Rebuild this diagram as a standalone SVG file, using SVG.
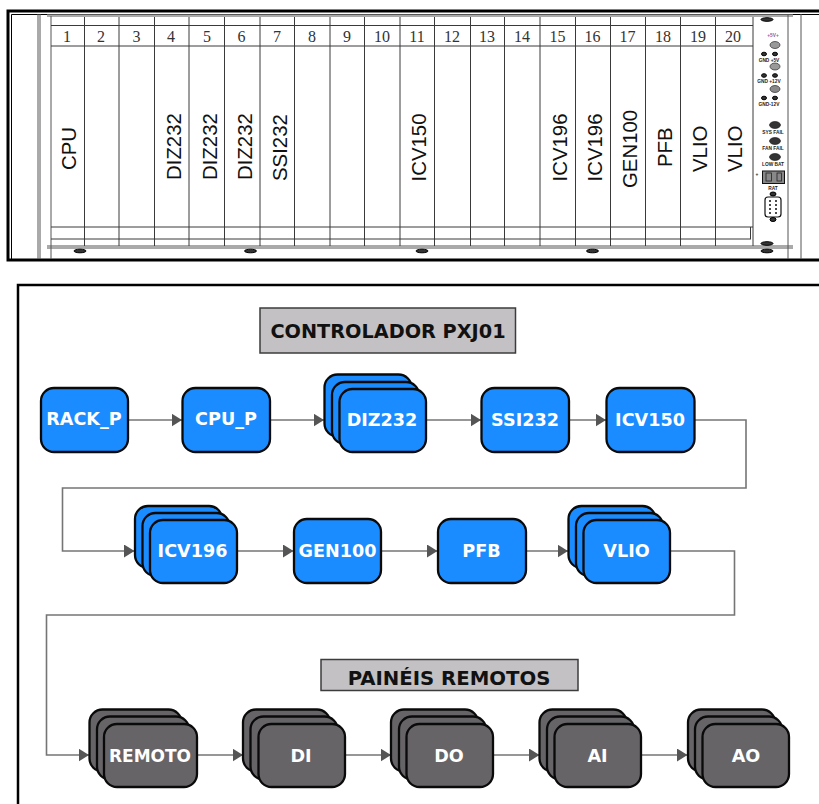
<svg xmlns="http://www.w3.org/2000/svg" width="819" height="804" viewBox="0 0 819 804">
<style>
.bg{fill:#fff}
.fr{fill:none;stroke:#000}
.ln{fill:none;stroke:#3a3a3a;stroke-width:1}
.gl{fill:none;stroke:#555;stroke-width:1}
.num{font-family:"Liberation Serif",serif;font-size:16px;fill:#333;text-anchor:middle}
.mod{font-family:"Liberation Sans",Arial,sans-serif;font-size:20.4px;fill:#111}
.tiny{font-family:"Liberation Sans",Arial,sans-serif;font-weight:700;font-size:4.800px;fill:#222;text-anchor:middle}
.scr{fill:#333;stroke:#000;stroke-width:1}
.led{fill:#333;stroke:#111;stroke-width:.6}
.b{fill:#1a8cff;stroke:#0a0a0a;stroke-width:2.300}
.d{fill:#666467;stroke:#0a0a0a;stroke-width:2.300}
.lb{font-family:"DejaVu Sans",Verdana,sans-serif;font-weight:700;font-size:17.6px;fill:#fff;text-anchor:middle}
.tb{fill:#c3c1c4;stroke:#3c3c3c;stroke-width:1.5}
.tt{font-family:"DejaVu Sans",Verdana,sans-serif;font-weight:700;fill:#111;text-anchor:middle}
.cn{fill:none;stroke:#757575;stroke-width:1.6;marker-end:url(#ah)}
</style>
<defs>
<marker id="ah" markerUnits="userSpaceOnUse" markerWidth="11" markerHeight="14" refX="10.500" refY="6.500" orient="auto"><path d="M0 0L10.500 6.500L0 13Z" fill="#555"/></marker>
</defs>
<rect class="bg" width="819" height="804"/>
<g id="rack">
<path class="fr" stroke-width="3" d="M819 11H8V260H819"/>
<path class="fr" stroke-width="1" d="M819 14.500H11.500V259"/>
<path class="gl" d="M38 14V259M40 14V259M788 14V259M801 14V259"/>
<path class="gl" d="M47 14.500H793M47 16H793M47 246H793M47 248H793M51 16V259"/>
<path class="ln" d="M51 25.500H753M51 46H753M51 227H753"/>
<path class="ln" d="M51 239H751M750.500 227V239"/>
<path class="ln" d="M84.500 17V246M119 17V246M154.500 17V246M189 17V246M224.500 17V246M260 17V246M294.500 17V246M330 17V246M364.500 17V246M400 17V246M434.500 17V246M470.500 17V246M504.500 17V246M540 17V246M575.500 17V246M610.500 17V246M645.500 17V246M680.500 17V246M715.500 17V246M753 17V246"/>
<g>
<text class="num" x="67" y="41.500">1</text><text class="num" x="101" y="41.500">2</text><text class="num" x="136.500" y="41.500">3</text><text class="num" x="171" y="41.500">4</text><text class="num" x="207" y="41.500">5</text><text class="num" x="241.500" y="41.500">6</text><text class="num" x="277" y="41.500">7</text><text class="num" x="312" y="41.500">8</text><text class="num" x="347" y="41.500">9</text><text class="num" x="382" y="41.500">10</text><text class="num" x="417" y="41.500">11</text><text class="num" x="452" y="41.500">12</text><text class="num" x="487" y="41.500">13</text><text class="num" x="522" y="41.500">14</text><text class="num" x="557.500" y="41.500">15</text><text class="num" x="592.500" y="41.500">16</text><text class="num" x="627.500" y="41.500">17</text><text class="num" x="663" y="41.500">18</text><text class="num" x="698" y="41.500">19</text><text class="num" x="733" y="41.500">20</text>
</g>
<g>
<text class="mod" transform="translate(76 170) rotate(-90)">CPU</text>
<text class="mod" transform="translate(181 180) rotate(-90)">DIZ232</text>
<text class="mod" transform="translate(216.500 180) rotate(-90)">DIZ232</text>
<text class="mod" transform="translate(252 180) rotate(-90)">DIZ232</text>
<text class="mod" transform="translate(286.500 181) rotate(-90)">SSI232</text>
<text class="mod" transform="translate(426 181.500) rotate(-90)">ICV150</text>
<text class="mod" transform="translate(567 181.500) rotate(-90)">ICV196</text>
<text class="mod" transform="translate(602 181.500) rotate(-90)">ICV196</text>
<text class="mod" transform="translate(637 188) rotate(-90)">GEN100</text>
<text class="mod" transform="translate(672 167) rotate(-90)">PFB</text>
<text class="mod" transform="translate(707 172) rotate(-90)">VLIO</text>
<text class="mod" transform="translate(742 172) rotate(-90)">VLIO</text>
</g>
<g>
<ellipse class="scr" cx="80" cy="251" rx="6" ry="1.800"/><ellipse class="scr" cx="250.500" cy="251" rx="6" ry="1.800"/><ellipse class="scr" cx="422" cy="251" rx="6" ry="1.800"/><ellipse class="scr" cx="592.500" cy="251" rx="6" ry="1.800"/><ellipse class="scr" cx="767" cy="251" rx="6" ry="1.800"/><ellipse class="scr" cx="767" cy="243.500" rx="6" ry="1.800"/><ellipse class="scr" cx="767" cy="19.500" rx="6" ry="1.800"/>
<text class="tiny" x="773" y="36.500" style="fill:#8a5fa8">+5V+</text>
<ellipse class="led" cx="775" cy="45" rx="5" ry="3.500" style="fill:#999"/>
<ellipse class="scr" cx="764" cy="54" rx="2.500" ry="1.800"/><ellipse class="scr" cx="775" cy="54" rx="2.500" ry="1.800"/>
<text class="tiny" x="769" y="62">GND +5V</text>
<ellipse class="led" cx="775" cy="66.500" rx="5" ry="3.500" style="fill:#999"/>
<ellipse class="scr" cx="764" cy="75.500" rx="2.500" ry="1.800"/><ellipse class="scr" cx="775" cy="75.500" rx="2.500" ry="1.800"/>
<text class="tiny" x="769" y="83">GND +12V</text>
<ellipse class="led" cx="775" cy="89" rx="5" ry="3.500" style="fill:#888"/>
<ellipse class="scr" cx="764" cy="98" rx="2.500" ry="1.800"/><ellipse class="scr" cx="775" cy="98" rx="2.500" ry="1.800"/>
<text class="tiny" x="769" y="106">GND-12V</text>
<ellipse class="led" cx="775" cy="125" rx="5.500" ry="3.500"/><text class="tiny" x="773" y="133.500">SYS FAIL</text>
<ellipse class="led" cx="775" cy="141" rx="5.500" ry="3.500"/><text class="tiny" x="773" y="149.500">FAN FAIL</text>
<ellipse class="led" cx="775" cy="157" rx="5.500" ry="3.500"/><text class="tiny" x="773" y="166">LOW BAT</text>
<text class="tiny" x="757" y="176">+</text>
<rect x="762.500" y="171" width="22" height="12.500" fill="#888" stroke="#111"/>
<rect x="766" y="173" width="5.500" height="8" fill="none" stroke="#222" stroke-width=".8"/>
<rect x="777" y="173" width="4.500" height="8" fill="none" stroke="#222" stroke-width=".8"/>
<text class="tiny" x="773" y="189.500">RAT</text>
<ellipse class="scr" cx="773" cy="194" rx="3" ry="2"/>
<rect x="765" y="197" width="16" height="20" rx="3" fill="#fff" stroke="#111" stroke-width="1.200"/>
<path d="M769 201h2M769 205h2M769 209h2M769 213h2M775 201h2M775 205h2M775 209h2M775 213h2" stroke="#111" stroke-width="1.500"/>
<ellipse class="scr" cx="773" cy="219.500" rx="3" ry="2"/>
</g>
</g>
<rect x="18" y="285" width="810" height="530" fill="none" stroke="#000" stroke-width="2.500"/>
<g id="connectors">
<path class="cn" d="M128 420H182"/>
<path class="cn" d="M270 420H324"/>
<path class="cn" d="M426 420H481"/>
<path class="cn" d="M569 420H606"/>
<path class="cn" d="M695 420H746V488H62.500V551H134.500"/>
<path class="cn" d="M237 551H293.500"/>
<path class="cn" d="M381 551H437.500"/>
<path class="cn" d="M526 551H568"/>
<path class="cn" d="M670 551H734.500V615H46.500V755H89"/>
<path class="cn" d="M197 755H243"/>
<path class="cn" d="M345 755H391"/>
<path class="cn" d="M493 755H539.500"/>
<path class="cn" d="M641 755H687.500"/>
</g>
<g id="title-controlador"><rect class="tb" x="260" y="308" width="255.500" height="45"/><text class="tt" x="388" y="338" font-size="19.300">CONTROLADOR PXJ01</text></g>
<g id="rack_p"><rect class="b" x="41" y="388" width="87" height="64" rx="13"/><text class="lb" x="84" y="425">RACK_P</text></g>
<g id="cpu_p"><rect class="b" x="182.500" y="388" width="87.500" height="64" rx="13"/><text class="lb" x="226" y="425">CPU_P</text></g>
<g id="diz232"><rect class="b" x="324.500" y="374.500" width="87" height="62" rx="13"/><rect class="b" x="332" y="382" width="87" height="62" rx="13"/><rect class="b" x="339.500" y="389" width="86.500" height="63" rx="13"/><text class="lb" x="382" y="426">DIZ232</text></g>
<g id="ssi232"><rect class="b" x="481.500" y="388" width="87.500" height="64" rx="13"/><text class="lb" x="525" y="426">SSI232</text></g>
<g id="icv150"><rect class="b" x="606.500" y="388" width="88" height="64" rx="13"/><text class="lb" x="650" y="426">ICV150</text></g>
<g id="icv196"><rect class="b" x="135" y="506" width="87" height="62" rx="13"/><rect class="b" x="142.500" y="513" width="87" height="63" rx="13"/><rect class="b" x="150" y="520" width="87" height="63" rx="13"/><text class="lb" x="192.500" y="557">ICV196</text></g>
<g id="gen100"><rect class="b" x="294" y="519" width="87" height="64" rx="13"/><text class="lb" x="337.500" y="557">GEN100</text></g>
<g id="pfb"><rect class="b" x="438" y="519" width="88" height="64" rx="13"/><text class="lb" x="481.500" y="557">PFB</text></g>
<g id="vlio"><rect class="b" x="568.500" y="506" width="87" height="62" rx="13"/><rect class="b" x="576" y="513" width="87" height="63" rx="13"/><rect class="b" x="583.500" y="520" width="86.500" height="63" rx="13"/><text class="lb" x="626.500" y="557">VLIO</text></g>
<g id="title-paineis"><rect class="tb" x="321" y="659.500" width="257" height="31"/><text class="tt" x="449" y="684.500" font-size="19.700">PAINÉIS REMOTOS</text></g>
<g id="remoto"><rect class="d" x="89.500" y="709.500" width="92" height="62" rx="13"/><rect class="d" x="97" y="716.500" width="92" height="63" rx="13"/><rect class="d" x="104" y="724" width="93" height="63" rx="13"/><text class="lb" x="150" y="762" style="font-size:17px">REMOTO</text></g>
<g id="di"><rect class="d" x="243" y="709.500" width="87" height="62" rx="13"/><rect class="d" x="250.500" y="716.500" width="87" height="63" rx="13"/><rect class="d" x="258.500" y="724" width="86.500" height="63" rx="13"/><text class="lb" x="301" y="762">DI</text></g>
<g id="do"><rect class="d" x="391" y="709.500" width="87" height="62" rx="13"/><rect class="d" x="399" y="716.500" width="87" height="63" rx="13"/><rect class="d" x="406.500" y="724" width="86.500" height="63" rx="13"/><text class="lb" x="449" y="762">DO</text></g>
<g id="ai"><rect class="d" x="539.500" y="709.500" width="87" height="62" rx="13"/><rect class="d" x="547" y="716.500" width="87" height="63" rx="13"/><rect class="d" x="554.500" y="724" width="86.500" height="63" rx="13"/><text class="lb" x="597.500" y="762">AI</text></g>
<g id="ao"><rect class="d" x="688" y="709.500" width="87" height="62" rx="13"/><rect class="d" x="695" y="716.500" width="87" height="63" rx="13"/><rect class="d" x="702.500" y="724" width="86.500" height="63" rx="13"/><text class="lb" x="746" y="762">AO</text></g>
</svg>
